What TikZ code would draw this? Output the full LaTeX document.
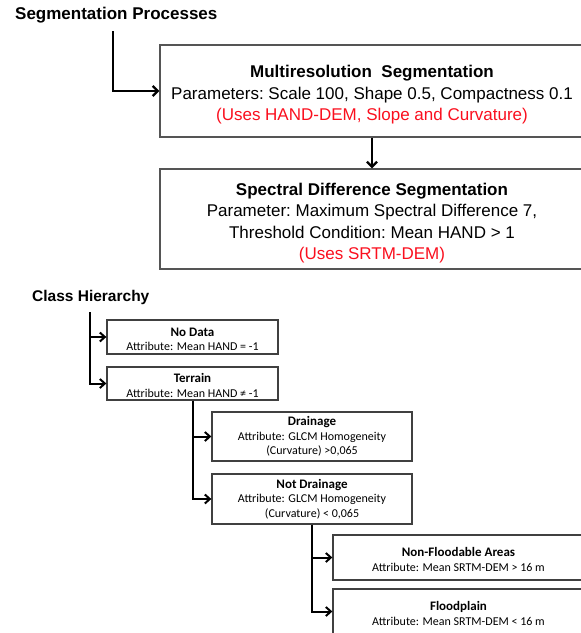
\documentclass[tikz,border=0pt]{standalone}
\usepackage{fontspec}
\setmainfont{Liberation Sans}
\newfontfamily\calfont{Carlito}
\usepackage{xcolor}
\usetikzlibrary{arrows.meta}
\definecolor{usesred}{RGB}{250,15,30}
\definecolor{boxgray}{RGB}{85,85,85}

\begin{document}
\begin{tikzpicture}[x=1pt,y=-1pt,
  heading/.style={anchor=west,inner sep=0pt,font=\bfseries\fontsize{17}{20}\selectfont},
  segbox/.style={draw=boxgray,line width=1.4pt,align=center,inner sep=0pt,
    minimum width=424pt,font=\fontsize{17}{21.5}\selectfont},
  classbox/.style={draw=black!75,line width=1.3pt,align=center,inner sep=0pt,
    font=\calfont\fontsize{12}{14.5}\selectfont},
  flow/.style={line width=2.3pt,-{Straight Barb[length=5pt,width=10pt]}},
  thinflow/.style={line width=2pt,-{Straight Barb[length=5pt,width=9pt]}}]
\clip (0,0) rectangle (581,633);

\node[heading] (segproc) at (15,15) {Segmentation Processes};
\node[segbox,minimum height=92pt] (multi) at (372,91)
  {\rule{0pt}{20pt}\textbf{Multiresolution\ \ Segmentation}\\
   Parameters:\ Scale 100, Shape 0.5, Compactness 0.1\\
   \textcolor{usesred}{(Uses HAND-DEM, Slope and Curvature)}};
\node[segbox,minimum height=100pt] (spectral) at (372,219)
  {\rule{0pt}{21pt}\textbf{Spectral Difference\ Segmentation}\\
   Parameter:\ Maximum Spectral Difference\ 7,\\
   Threshold\ Condition:\ Mean HAND > 1\\
   \textcolor{usesred}{(Uses SRTM-DEM)}};

\node[heading,font=\bfseries\fontsize{15.5}{18}\selectfont] (classh) at (32,297) {Class Hierarchy};
\node[classbox,minimum width=171pt,minimum height=34pt] (nodata) at (192.5,337)
  {\rule{0pt}{13pt}\textbf{\fontsize{13}{14.5}\selectfont No Data}\\ Attribute: Mean HAND = -1};
\node[classbox,minimum width=171pt,minimum height=33pt] (terrain) at (192.5,383.5)
  {\rule{0pt}{13pt}\textbf{\fontsize{13}{14.5}\selectfont Terrain}\\ Attribute: Mean HAND ≠ -1};
\node[classbox,minimum width=200pt,minimum height=49pt] (drainage) at (312,436.5)
  {\textbf{\fontsize{13}{14.5}\selectfont Drainage}\\ Attribute: GLCM Homogeneity\\ (Curvature) >0,065};
\node[classbox,minimum width=200pt,minimum height=50pt] (notdrain) at (312,499)
  {\textbf{\fontsize{13}{14.5}\selectfont Not Drainage}\\ Attribute: GLCM Homogeneity\\ (Curvature) < 0,065};
\node[classbox,minimum width=251pt,minimum height=45pt] (nonflood) at (458.5,557.5)
  {\rule{0pt}{13pt}\textbf{\fontsize{13}{14.5}\selectfont Non-Floodable Areas}\\ Attribute: Mean SRTM-DEM > 16 m};
\node[classbox,minimum width=251pt,minimum height=45pt] (floodplain) at (458.5,611.5)
  {\rule{0pt}{13pt}\textbf{\fontsize{13}{14.5}\selectfont Floodplain}\\ Attribute: Mean SRTM-DEM < 16 m};

\coordinate (segtop) at (113,31);
\coordinate (classtop) at (90,312);

\draw[flow] (segtop) |- (multi.west);
\draw[flow] (multi.south) -- (spectral.north);

\draw[thinflow] (classtop) |- (nodata.west);
\draw[thinflow] (classtop) |- (terrain.west);
\draw[thinflow] (terrain.south) |- (drainage.west);
\draw[thinflow] (terrain.south) |- (notdrain.west);
\draw[thinflow] (notdrain.south) |- (nonflood.west);
\draw[thinflow] (notdrain.south) |- (floodplain.west);
\end{tikzpicture}
\end{document}
